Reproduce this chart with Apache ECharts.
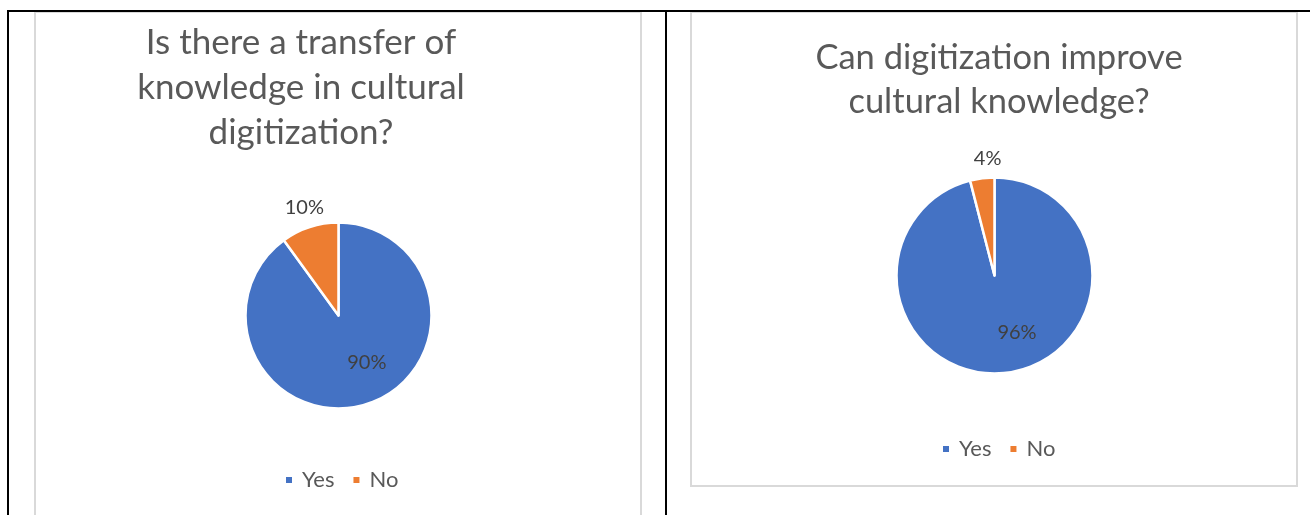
<!DOCTYPE html>
<html>
<head>
<meta charset="utf-8">
<script src="https://cdn.jsdelivr.net/npm/echarts@6/dist/echarts.min.js"></script>
<style>
html,body{margin:0;padding:0;background:#fff;}
#chart{width:1310px;height:515px;}
</style>
</head>
<body>
<div id="chart"></div>
<script>
const categories = ['Yes', 'No'];
const transferValues = [90, 10];
const improveValues = [96, 4];
const titleLeft = 'Is there a transfer of\nknowledge in cultural\ndigitization?';
const titleRight = 'Can digitization improve\ncultural knowledge?';
const colors = ['#4472C4', '#ED7D31'];

const FONT = 'Lato, "Open Sans", sans-serif';
const TXT = '#595959';

function pieData(vals, insideOffset, outsideOffset) {
  return categories.map((c, i) => ({
    name: c,
    value: vals[i],
    label: i === 0
      ? { position: 'inside', offset: insideOffset }
      : { position: 'outside', offset: outsideOffset }
  }));
}

const legendCommon = {
  data: categories, icon: 'rect', itemWidth: 8, itemHeight: 8, itemGap: 17,
  textStyle: { fontFamily: FONT, fontSize: 22, color: TXT, padding: [0, 0, 0, 4] }
};

const chart = echarts.init(document.getElementById('chart'), null, {renderer: 'canvas'});
chart.setOption({
  animation: false,
  color: colors,
  title: [
    { text: titleLeft, left: 296, top: 15, textAlign: 'center',
      textStyle: { fontFamily: FONT, fontSize: 35, fontWeight: 'normal', color: TXT, lineHeight: 45 } },
    { text: titleRight, left: 994, top: 31, textAlign: 'center',
      textStyle: { fontFamily: FONT, fontSize: 34.5, fontWeight: 'normal', color: TXT, lineHeight: 44 } }
  ],
  legend: [
    Object.assign({ left: 279, top: 464 }, legendCommon),
    Object.assign({ left: 936, top: 433 }, legendCommon)
  ],
  graphic: [
    { type: 'rect', shape: { x: 35, y: 12, width: 606, height: 520 }, style: { fill: 'none', stroke: '#d9d9d9', lineWidth: 2 }, z: 0 },
    { type: 'rect', shape: { x: 691, y: 12, width: 606, height: 474 }, style: { fill: 'none', stroke: '#d9d9d9', lineWidth: 2 }, z: 0 },
    { type: 'line', shape: { x1: 8, y1: 11, x2: 1310, y2: 11 }, style: { stroke: '#000', lineWidth: 2 }, z: 1 },
    { type: 'line', shape: { x1: 8, y1: 10, x2: 8, y2: 515 }, style: { stroke: '#000', lineWidth: 2 }, z: 1 },
    { type: 'line', shape: { x1: 666, y1: 10, x2: 666, y2: 515 }, style: { stroke: '#000', lineWidth: 2 }, z: 1 }
  ],
  series: [
    {
      type: 'pie', center: [338.5, 315.5], radius: 93, startAngle: 90, clockwise: true,
      itemStyle: { borderColor: '#fff', borderWidth: 2.5 },
      label: { fontFamily: FONT, fontSize: 20, color: '#404040', formatter: '{d}%' },
      labelLine: { show: false, length: 6, length2: 0 },
      emphasis: { disabled: true },
      data: pieData(transferValues, [13, 0], [21, -14])
    },
    {
      type: 'pie', center: [994.5, 275.5], radius: 98, startAngle: 90, clockwise: true,
      itemStyle: { borderColor: '#fff', borderWidth: 2.5 },
      label: { fontFamily: FONT, fontSize: 20, color: '#404040', formatter: '{d}%' },
      labelLine: { show: false, length: 6, length2: 0 },
      emphasis: { disabled: true },
      data: pieData(improveValues, [16, 5], [25, -14])
    }
  ]
});
</script>
</body>
</html>
